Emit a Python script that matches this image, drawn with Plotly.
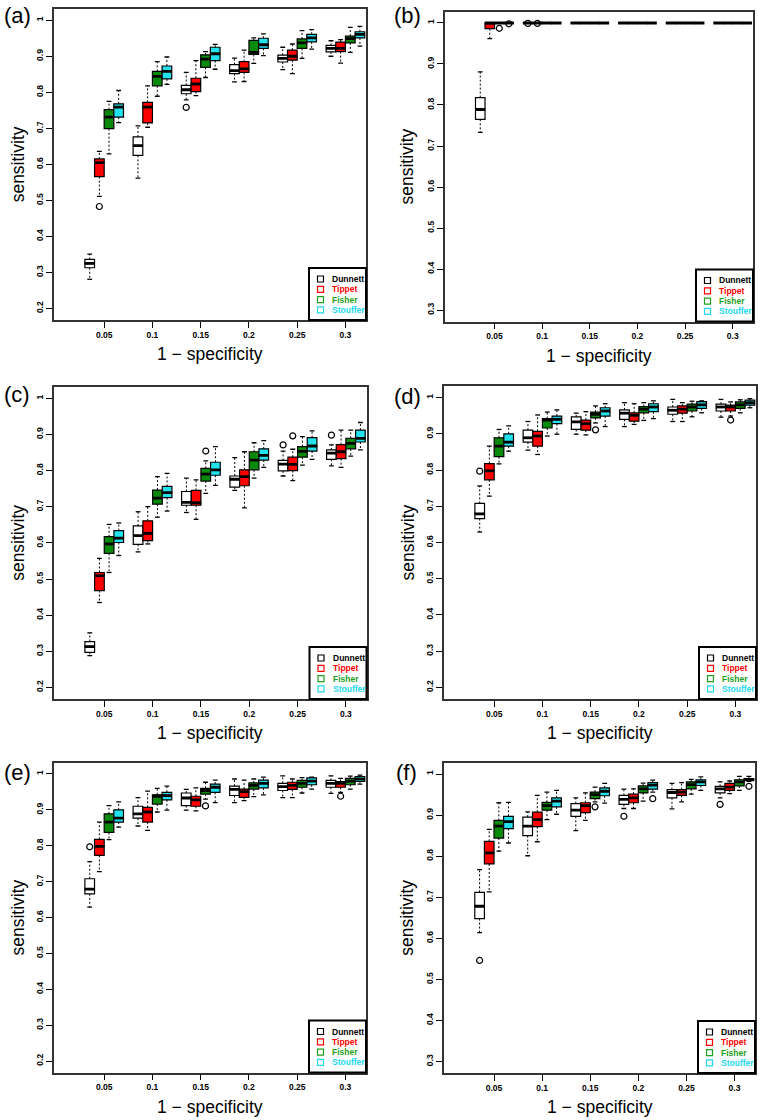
import plotly.graph_objects as go

# ---------------- data ----------------
GROUPS = [0.05, 0.10, 0.15, 0.20, 0.25, 0.30]
GROUP_LABELS = ["0.05", "0.1", "0.15", "0.2", "0.25", "0.3"]
SERIES = ["Dunnett", "Tippet", "Fisher", "Stouffer"]

Y_TICKS_02 = [0.2, 0.3, 0.4, 0.5, 0.6, 0.7, 0.8, 0.9, 1.0]
Y_LABELS_02 = ["0.2", "0.3", "0.4", "0.5", "0.6", "0.7", "0.8", "0.9", "1"]
Y_TICKS_03 = [0.3, 0.4, 0.5, 0.6, 0.7, 0.8, 0.9, 1.0]
Y_LABELS_03 = ["0.3", "0.4", "0.5", "0.6", "0.7", "0.8", "0.9", "1"]

# rows: Dunnett, Tippet, Fisher, Stouffer ; columns: GROUPS
# ---- panel (a)
A_LOW = [[0.281, 0.562, 0.779, 0.829, 0.863, 0.900],
         [0.511, 0.703, 0.791, 0.830, 0.852, 0.881],
         [0.629, 0.789, 0.841, 0.880, 0.894, 0.911],
         [0.716, 0.822, 0.864, 0.902, 0.920, 0.928]]
A_Q1 = [[0.313, 0.625, 0.796, 0.852, 0.884, 0.912],
        [0.566, 0.715, 0.802, 0.855, 0.889, 0.913],
        [0.699, 0.818, 0.869, 0.905, 0.922, 0.937],
        [0.731, 0.837, 0.888, 0.922, 0.940, 0.951]]
A_MED = [[0.325, 0.652, 0.807, 0.860, 0.894, 0.922],
         [0.605, 0.759, 0.823, 0.865, 0.900, 0.922],
         [0.731, 0.844, 0.892, 0.911, 0.937, 0.949],
         [0.759, 0.858, 0.907, 0.932, 0.951, 0.961]]
A_Q3 = [[0.336, 0.676, 0.819, 0.877, 0.903, 0.930],
        [0.615, 0.772, 0.839, 0.885, 0.917, 0.939],
        [0.752, 0.858, 0.904, 0.944, 0.948, 0.956],
        [0.768, 0.873, 0.925, 0.950, 0.961, 0.968]]
A_UP = [[0.351, 0.707, 0.855, 0.895, 0.925, 0.943],
        [0.636, 0.818, 0.888, 0.917, 0.934, 0.946],
        [0.775, 0.885, 0.913, 0.951, 0.971, 0.980],
        [0.805, 0.898, 0.933, 0.962, 0.974, 0.983]]
A_OUT = [("Tippet", 0.05, 0.483), ("Dunnett", 0.15, 0.758)]

# ---- panel (b)
B_LOW = [[0.733, 1, 1, 1, 1, 1],
         [0.962, 1, 1, 1, 1, 1],
         [1, 1, 1, 1, 1, 1],
         [1, 1, 1, 1, 1, 1]]
B_Q1 = [[0.765, 1, 1, 1, 1, 1],
        [0.986, 1, 1, 1, 1, 1],
        [1, 1, 1, 1, 1, 1],
        [1, 1, 1, 1, 1, 1]]
B_MED = [[0.789, 1, 1, 1, 1, 1],
         [1, 1, 1, 1, 1, 1],
         [1, 1, 1, 1, 1, 1],
         [1, 1, 1, 1, 1, 1]]
B_Q3 = [[0.818, 1, 1, 1, 1, 1],
        [1, 1, 1, 1, 1, 1],
        [1, 1, 1, 1, 1, 1],
        [1, 1, 1, 1, 1, 1]]
B_UP = [[0.881, 1, 1, 1, 1, 1],
        [1, 1, 1, 1, 1, 1],
        [1, 1, 1, 1, 1, 1],
        [1, 1, 1, 1, 1, 1]]
B_OUT = [("Fisher", 0.05, 0.987), ("Stouffer", 0.05, 0.998),
         ("Dunnett", 0.10, 0.999), ("Tippet", 0.10, 0.999)]

# ---- panel (c)
C_LOW = [[0.288, 0.575, 0.684, 0.745, 0.785, 0.813],
         [0.435, 0.597, 0.665, 0.697, 0.772, 0.809],
         [0.518, 0.671, 0.737, 0.779, 0.815, 0.840],
         [0.565, 0.688, 0.759, 0.809, 0.831, 0.857]]
C_Q1 = [[0.297, 0.596, 0.704, 0.754, 0.799, 0.831],
        [0.468, 0.606, 0.704, 0.758, 0.800, 0.833],
        [0.571, 0.707, 0.771, 0.802, 0.837, 0.860],
        [0.601, 0.725, 0.787, 0.829, 0.854, 0.879]]
C_MED = [[0.313, 0.620, 0.712, 0.776, 0.818, 0.848],
         [0.509, 0.626, 0.711, 0.783, 0.817, 0.852],
         [0.597, 0.724, 0.790, 0.829, 0.853, 0.875],
         [0.613, 0.739, 0.802, 0.842, 0.868, 0.889]]
C_Q3 = [[0.327, 0.647, 0.742, 0.785, 0.828, 0.857],
        [0.518, 0.661, 0.745, 0.802, 0.837, 0.872],
        [0.617, 0.746, 0.806, 0.852, 0.866, 0.889],
        [0.634, 0.756, 0.823, 0.860, 0.891, 0.912]]
C_UP = [[0.351, 0.686, 0.779, 0.836, 0.854, 0.871],
        [0.557, 0.700, 0.774, 0.852, 0.859, 0.912],
        [0.651, 0.783, 0.827, 0.877, 0.894, 0.912],
        [0.655, 0.792, 0.866, 0.883, 0.910, 0.933]]
C_OUT = [("Fisher", 0.15, 0.854), ("Dunnett", 0.25, 0.871),
         ("Tippet", 0.25, 0.896), ("Dunnett", 0.30, 0.898)]

# ---- panel (d)
D_LOW = [[0.629, 0.855, 0.899, 0.920, 0.934, 0.946],
         [0.728, 0.843, 0.897, 0.926, 0.934, 0.949],
         [0.817, 0.894, 0.930, 0.937, 0.947, 0.958],
         [0.852, 0.899, 0.920, 0.942, 0.958, 0.972]]
D_Q1 = [[0.666, 0.877, 0.912, 0.940, 0.954, 0.963],
        [0.773, 0.866, 0.910, 0.935, 0.957, 0.963],
        [0.837, 0.916, 0.944, 0.958, 0.963, 0.970],
        [0.866, 0.928, 0.949, 0.961, 0.970, 0.979]]
D_MED = [[0.679, 0.889, 0.933, 0.957, 0.965, 0.974],
         [0.798, 0.894, 0.928, 0.951, 0.968, 0.974],
         [0.866, 0.938, 0.954, 0.968, 0.974, 0.980],
         [0.877, 0.940, 0.963, 0.974, 0.980, 0.986]]
D_Q3 = [[0.708, 0.910, 0.947, 0.966, 0.974, 0.982],
        [0.818, 0.907, 0.938, 0.958, 0.977, 0.979],
        [0.889, 0.942, 0.960, 0.975, 0.982, 0.988],
        [0.900, 0.949, 0.972, 0.983, 0.989, 0.993]]
D_UP = [[0.756, 0.934, 0.957, 0.986, 0.995, 0.995],
        [0.866, 0.952, 0.961, 0.983, 0.986, 0.988],
        [0.912, 0.960, 0.977, 0.986, 0.990, 0.994],
        [0.922, 0.966, 0.983, 0.991, 0.991, 0.997]]
D_OUT = [("Dunnett", 0.05, 0.797), ("Fisher", 0.15, 0.911), ("Tippet", 0.30, 0.938)]

# ---- panel (e)
E_LOW = [[0.629, 0.855, 0.899, 0.920, 0.934, 0.946],
         [0.728, 0.843, 0.897, 0.926, 0.934, 0.949],
         [0.817, 0.894, 0.930, 0.937, 0.947, 0.958],
         [0.852, 0.899, 0.920, 0.942, 0.958, 0.972]]
E_Q1 = [[0.666, 0.877, 0.912, 0.940, 0.954, 0.963],
        [0.773, 0.866, 0.910, 0.935, 0.957, 0.963],
        [0.837, 0.916, 0.944, 0.958, 0.963, 0.970],
        [0.866, 0.928, 0.949, 0.961, 0.970, 0.979]]
E_MED = [[0.679, 0.889, 0.933, 0.957, 0.965, 0.974],
         [0.798, 0.894, 0.928, 0.951, 0.968, 0.974],
         [0.866, 0.938, 0.954, 0.968, 0.974, 0.980],
         [0.877, 0.940, 0.963, 0.974, 0.980, 0.986]]
E_Q3 = [[0.708, 0.910, 0.947, 0.966, 0.974, 0.982],
        [0.818, 0.907, 0.938, 0.958, 0.977, 0.979],
        [0.889, 0.942, 0.960, 0.975, 0.982, 0.988],
        [0.900, 0.949, 0.972, 0.983, 0.989, 0.993]]
E_UP = [[0.756, 0.934, 0.957, 0.986, 0.995, 0.995],
        [0.866, 0.952, 0.961, 0.983, 0.986, 0.988],
        [0.912, 0.960, 0.977, 0.986, 0.990, 0.994],
        [0.922, 0.966, 0.983, 0.991, 0.991, 0.997]]
E_OUT = [("Dunnett", 0.05, 0.797), ("Fisher", 0.15, 0.911), ("Tippet", 0.30, 0.938)]

# ---- panel (f)
F_LOW = [[0.614, 0.801, 0.862, 0.916, 0.915, 0.942],
         [0.713, 0.835, 0.887, 0.916, 0.932, 0.952],
         [0.812, 0.889, 0.932, 0.934, 0.951, 0.960],
         [0.832, 0.902, 0.929, 0.956, 0.960, 0.982]]
F_Q1 = [[0.648, 0.850, 0.897, 0.926, 0.942, 0.954],
        [0.781, 0.872, 0.906, 0.930, 0.948, 0.960],
        [0.844, 0.912, 0.940, 0.954, 0.964, 0.971],
        [0.867, 0.920, 0.947, 0.963, 0.972, 0.984]]
F_MED = [[0.678, 0.873, 0.912, 0.938, 0.955, 0.964],
         [0.808, 0.889, 0.923, 0.942, 0.956, 0.968],
         [0.873, 0.923, 0.950, 0.964, 0.974, 0.981],
         [0.884, 0.934, 0.958, 0.973, 0.981, 0.987]]
F_Q3 = [[0.712, 0.895, 0.928, 0.948, 0.962, 0.970],
        [0.836, 0.907, 0.930, 0.951, 0.962, 0.977],
        [0.887, 0.931, 0.956, 0.971, 0.981, 0.986],
        [0.897, 0.942, 0.966, 0.979, 0.986, 0.989]]
F_UP = [[0.767, 0.908, 0.942, 0.963, 0.977, 0.981],
        [0.865, 0.948, 0.954, 0.964, 0.979, 0.983],
        [0.930, 0.956, 0.968, 0.978, 0.987, 0.994],
        [0.931, 0.960, 0.977, 0.985, 0.993, 0.994]]
F_OUT = [("Dunnett", 0.05, 0.546), ("Fisher", 0.15, 0.920), ("Dunnett", 0.20, 0.897),
         ("Stouffer", 0.20, 0.940), ("Dunnett", 0.30, 0.926), ("Stouffer", 0.30, 0.970)]

PANELS = [
    dict(tag="(a)", low=A_LOW, q1=A_Q1, med=A_MED, q3=A_Q3, up=A_UP, out=A_OUT, yt=Y_TICKS_02, yl=Y_LABELS_02),
    dict(tag="(b)", low=B_LOW, q1=B_Q1, med=B_MED, q3=B_Q3, up=B_UP, out=B_OUT, yt=Y_TICKS_03, yl=Y_LABELS_03),
    dict(tag="(c)", low=C_LOW, q1=C_Q1, med=C_MED, q3=C_Q3, up=C_UP, out=C_OUT, yt=Y_TICKS_02, yl=Y_LABELS_02),
    dict(tag="(d)", low=D_LOW, q1=D_Q1, med=D_MED, q3=D_Q3, up=D_UP, out=D_OUT, yt=Y_TICKS_02, yl=Y_LABELS_02),
    dict(tag="(e)", low=E_LOW, q1=E_Q1, med=E_MED, q3=E_Q3, up=E_UP, out=E_OUT, yt=Y_TICKS_02, yl=Y_LABELS_02),
    dict(tag="(f)", low=F_LOW, q1=F_Q1, med=F_MED, q3=F_Q3, up=F_UP, out=F_OUT, yt=Y_TICKS_03, yl=Y_LABELS_03),
]

# ---------------- style / layout ----------------
W, H = 760, 1120
FONT = "Liberation Sans, Arial, Helvetica, sans-serif"
FILL = ["#FFFFFF", "#FF0000", "#0A8A0A", "#22E2EE"]
LEG_TEXT = ["#000000", "#FF0000", "#1FA01F", "#22D8EE"]
OFFSETS = [-0.015, -0.005, 0.005, 0.015]
BOX_W = 0.01
X_RANGE = [-0.002, 0.3213]
# plot-area pixel boxes (left, top, right, bottom)
PANEL_BOX = [(54, 8.7, 366, 320), (445, 11.5, 753, 321.5),
             (54, 386.7, 366.5, 699), (444, 386, 756, 699),
             (54, 762.5, 366, 1072.5), (444, 762.5, 755, 1073)]
TAG_POS = [(17, 16), (407.5, 15.5), (16.5, 395), (407, 396), (17, 772), (406, 772.5)]
YTITLE_X = [18, 407, 18, 407, 17, 407]


def px(x):
    return x / W


def py(y):
    return 1 - y / H


fig = go.Figure()
layout = dict(width=W, height=H, margin=dict(l=0, r=0, t=0, b=0),
              paper_bgcolor="white", plot_bgcolor="white", showlegend=False,
              font=dict(family=FONT, color="black"))
annotations, shapes = [], []

for i, (p, box) in enumerate(zip(PANELS, PANEL_BOX), start=1):
    L, T, R, B = box
    xa, ya = f"x{i}", f"y{i}"
    lo_y = p["yt"][0] - 0.04 * (p["yt"][-1] - p["yt"][0])
    hi_y = p["yt"][-1] + 0.04 * (p["yt"][-1] - p["yt"][0])

    wx, wy, cx, cy, mx, my = [], [], [], [], [], []
    for s, name in enumerate(SERIES):
        xs = [g + OFFSETS[s] for g in GROUPS]
        fig.add_trace(go.Box(
            x=xs, q1=p["q1"][s], median=p["med"][s], q3=p["q3"][s],
            lowerfence=p["q1"][s], upperfence=p["q3"][s],
            orientation="v", width=BOX_W, whiskerwidth=0, boxpoints=False,
            fillcolor=FILL[s], line=dict(color="black", width=1.2),
            name=name, xaxis=xa, yaxis=ya, hoverinfo="skip", showlegend=False))
        for x, lo, q1, m, q3, up in zip(xs, p["low"][s], p["q1"][s], p["med"][s], p["q3"][s], p["up"][s]):
            wx += [x, x, None, x, x, None]
            wy += [q3, up, None, q1, lo, None]
            cx += [x - BOX_W / 4, x + BOX_W / 4, None, x - BOX_W / 4, x + BOX_W / 4, None]
            cy += [up, up, None, lo, lo, None]
            mx += [x - BOX_W * 0.53, x + BOX_W * 0.53, None]
            my += [m, m, None]
    fig.add_trace(go.Scatter(x=wx, y=wy, mode="lines", xaxis=xa, yaxis=ya, hoverinfo="skip",
                             line=dict(color="black", width=1, dash="2px,2px")))
    fig.add_trace(go.Scatter(x=cx, y=cy, mode="lines", xaxis=xa, yaxis=ya, hoverinfo="skip",
                             line=dict(color="black", width=1.3)))
    fig.add_trace(go.Scatter(x=mx, y=my, mode="lines", xaxis=xa, yaxis=ya, hoverinfo="skip",
                             line=dict(color="black", width=2.8)))
    ox = [g + OFFSETS[SERIES.index(sname)] for sname, g, v in p["out"]]
    oy = [v for sname, g, v in p["out"]]
    fig.add_trace(go.Scatter(x=ox, y=oy, mode="markers", xaxis=xa, yaxis=ya, hoverinfo="skip",
                             marker=dict(symbol="circle-open", size=6, color="black",
                                         line=dict(width=1.2, color="black"))))

    tickfont = dict(family=FONT, size=8.5, color="black", weight="bold")
    layout[f"xaxis{i}"] = dict(domain=[px(L), px(R)], range=X_RANGE, anchor=ya,
                               tickmode="array", tickvals=GROUPS, ticktext=GROUP_LABELS,
                               ticks="outside", ticklen=6, tickwidth=1, tickcolor="black",
                               showline=True, linecolor="#333333", linewidth=1.5, mirror=True,
                               showgrid=False, zeroline=False, tickfont=tickfont)
    layout[f"yaxis{i}"] = dict(domain=[py(B), py(T)], range=[lo_y, hi_y], anchor=xa,
                               tickmode="array", tickvals=p["yt"], ticktext=p["yl"],
                               tickangle=-90, ticks="outside", ticklen=6, tickwidth=1,
                               tickcolor="black", showline=True, linecolor="#333333",
                               linewidth=1.5, mirror=True, showgrid=False, zeroline=False,
                               tickfont=tickfont)

    # axis titles and panel tag
    annotations.append(dict(text="sensitivity", x=px(YTITLE_X[i - 1]), y=py((T + B) / 2),
                            xref="paper", yref="paper", showarrow=False, textangle=-90,
                            font=dict(family=FONT, size=17.5, color="black"),
                            xanchor="center", yanchor="middle"))
    annotations.append(dict(text="1 \u2212 specificity", x=px((L + R) / 2), y=py(B + 34),
                            xref="paper", yref="paper", showarrow=False,
                            font=dict(family=FONT, size=17.5, color="black"),
                            xanchor="center", yanchor="middle"))
    tx, ty = TAG_POS[i - 1]
    annotations.append(dict(text=p["tag"], x=px(tx), y=py(ty), xref="paper", yref="paper",
                            showarrow=False, font=dict(family=FONT, size=22, color="black"),
                            xanchor="center", yanchor="middle"))

    # legend box (drawn like the base-R legend)
    lw, lh = 57, 52
    shapes.append(dict(type="rect", xref="paper", yref="paper",
                       x0=px(R - lw), x1=px(R), y0=py(B), y1=py(B - lh),
                       line=dict(color="black", width=2), fillcolor="white", layer="above"))
    for s, name in enumerate(SERIES):
        yc = B - 41 + s * 10.3
        xc = R - lw + 11.5
        shapes.append(dict(type="rect", xref="paper", yref="paper",
                           x0=px(xc - 3), x1=px(xc + 3), y0=py(yc + 3), y1=py(yc - 3),
                           line=dict(color=LEG_TEXT[s] if s else "black", width=1.2),
                           fillcolor="rgba(0,0,0,0)", layer="above"))
        annotations.append(dict(text=name, x=px(R - lw + 21), y=py(yc), xref="paper", yref="paper",
                                showarrow=False, xanchor="left", yanchor="middle",
                                font=dict(family=FONT, size=8.5, color=LEG_TEXT[s], weight="bold")))

layout["annotations"] = annotations
layout["shapes"] = shapes
fig.update_layout(**layout)

fig.write_html("out.html", config={"displayModeBar": False},
               post_script="document.body.style.margin='0px';")
